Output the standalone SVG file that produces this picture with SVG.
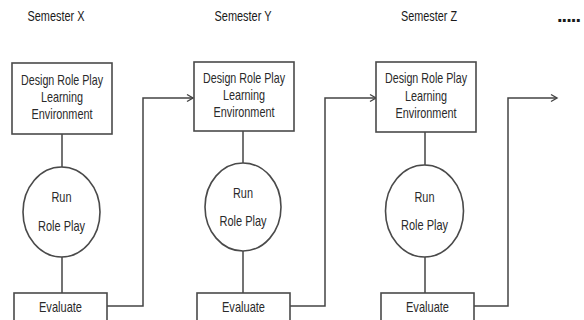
<svg xmlns="http://www.w3.org/2000/svg" width="584" height="320" viewBox="0 0 584 320">
<style>
.bg{fill:#ffffff}
.shape{fill:#ffffff;stroke:#4a4a4a;stroke-width:1.6}
.line{fill:none;stroke:#444444;stroke-width:1.5}
.t{font-family:"Liberation Sans",Arial,sans-serif;font-size:15px;fill:#2a2a2a;text-anchor:middle}
.title{font-family:"Liberation Sans",Arial,sans-serif;font-size:14px;fill:#1a1a1a;text-anchor:middle}
.dots{font-family:"Liberation Sans",Arial,sans-serif;font-size:20px;font-weight:bold;fill:#1a1a1a}
</style>
<defs>
<marker id="arr" markerWidth="9" markerHeight="10" refX="7" refY="5" orient="auto" markerUnits="userSpaceOnUse">
<path d="M1,1.5 L7,5 L1,8.5" fill="none" stroke="#444444" stroke-width="1.4"/>
</marker>
</defs>
<rect class="bg" x="0" y="0" width="584" height="320"/>

<g id="titles">
<text class="title" x="56" y="21" textLength="57" lengthAdjust="spacingAndGlyphs">Semester X</text>
<text class="title" x="243" y="21" textLength="57" lengthAdjust="spacingAndGlyphs">Semester Y</text>
<text class="title" x="429" y="21" textLength="56" lengthAdjust="spacingAndGlyphs">Semester Z</text>
<text class="dots" x="557" y="22" textLength="24" lengthAdjust="spacing">.....</text>
</g>

<g id="connectors">
<line class="line" x1="62" y1="133" x2="62" y2="167"/>
<line class="line" x1="62" y1="257" x2="62" y2="293"/>
<line class="line" x1="243" y1="131" x2="243" y2="163"/>
<line class="line" x1="243" y1="251" x2="243" y2="293"/>
<line class="line" x1="425" y1="132" x2="425" y2="165"/>
<line class="line" x1="425" y1="257" x2="425" y2="293"/>
<polyline class="line" points="107,306 143,306 143,98 193,98" marker-end="url(#arr)"/>
<polyline class="line" points="290,306 325,306 325,98 376,98" marker-end="url(#arr)"/>
<polyline class="line" points="474,306 508,306 508,98 557,98" marker-end="url(#arr)"/>
</g>

<g id="design1">
<rect class="shape" x="12" y="63" width="100" height="71"/>
<text class="t" x="62" y="85" textLength="82" lengthAdjust="spacingAndGlyphs">Design Role Play</text>
<text class="t" x="62" y="102" textLength="42" lengthAdjust="spacingAndGlyphs">Learning</text>
<text class="t" x="62" y="119" textLength="61" lengthAdjust="spacingAndGlyphs">Environment</text>
</g>
<g id="run1">
<ellipse class="shape" cx="61.5" cy="212" rx="38.5" ry="45"/>
<text class="t" x="61.5" y="202" textLength="20" lengthAdjust="spacingAndGlyphs">Run</text>
<text class="t" x="61.5" y="231" textLength="47" lengthAdjust="spacingAndGlyphs">Role Play</text>
</g>
<g id="evaluate1">
<rect class="shape" x="14" y="293" width="93" height="40"/>
<text class="t" x="60.5" y="312" textLength="43" lengthAdjust="spacingAndGlyphs">Evaluate</text>
</g>

<g id="design2">
<rect class="shape" x="194" y="62" width="100" height="69"/>
<text class="t" x="244" y="83" textLength="82" lengthAdjust="spacingAndGlyphs">Design Role Play</text>
<text class="t" x="244" y="100" textLength="42" lengthAdjust="spacingAndGlyphs">Learning</text>
<text class="t" x="244" y="117" textLength="61" lengthAdjust="spacingAndGlyphs">Environment</text>
</g>
<g id="run2">
<ellipse class="shape" cx="243" cy="207" rx="38" ry="44"/>
<text class="t" x="243" y="198" textLength="20" lengthAdjust="spacingAndGlyphs">Run</text>
<text class="t" x="243" y="226" textLength="47" lengthAdjust="spacingAndGlyphs">Role Play</text>
</g>
<g id="evaluate2">
<rect class="shape" x="197" y="293" width="93" height="40"/>
<text class="t" x="243.5" y="312" textLength="43" lengthAdjust="spacingAndGlyphs">Evaluate</text>
</g>

<g id="design3">
<rect class="shape" x="376" y="62" width="100" height="70"/>
<text class="t" x="426" y="83" textLength="82" lengthAdjust="spacingAndGlyphs">Design Role Play</text>
<text class="t" x="426" y="101" textLength="42" lengthAdjust="spacingAndGlyphs">Learning</text>
<text class="t" x="426" y="118" textLength="61" lengthAdjust="spacingAndGlyphs">Environment</text>
</g>
<g id="run3">
<ellipse class="shape" cx="424.5" cy="211" rx="39" ry="46"/>
<text class="t" x="424.5" y="202" textLength="20" lengthAdjust="spacingAndGlyphs">Run</text>
<text class="t" x="424.5" y="230" textLength="47" lengthAdjust="spacingAndGlyphs">Role Play</text>
</g>
<g id="evaluate3">
<rect class="shape" x="381" y="293" width="93" height="40"/>
<text class="t" x="427.5" y="312" textLength="43" lengthAdjust="spacingAndGlyphs">Evaluate</text>
</g>
</svg>
